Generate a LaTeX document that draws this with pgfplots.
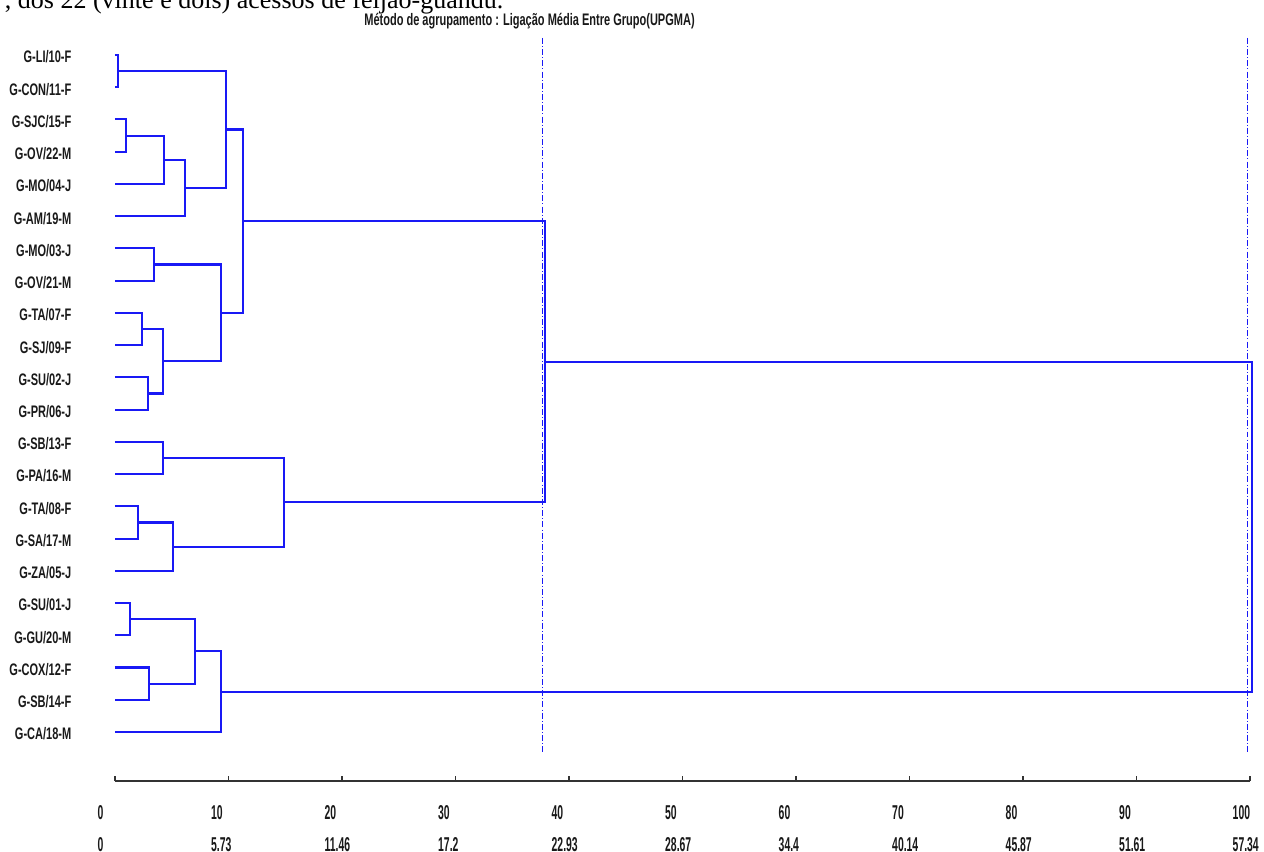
\documentclass[border=0pt]{standalone}
\usepackage{fontspec}
\setmainfont{Liberation Sans}
\newfontfamily\lblfont{Liberation Sans}[FakeStretch=0.66]
\newfontfamily\tickfont{Liberation Sans}[FakeStretch=0.52]
\newfontfamily\seriffont{Liberation Serif}
\usepackage{pgfplots}
\pgfplotsset{compat=1.18}
\definecolor{dendro}{RGB}{25,25,245}
\begin{document}
\begin{tikzpicture}
\useasboundingbox (0,0) rectangle (12.64cm,-8.51cm);
\clip (0,0) rectangle (12.64cm,-8.51cm);
\node[anchor=base east, font=\seriffont\fontsize{7.4}{8}\selectfont, inner sep=0pt] at (5.04cm,-0.085cm) {, dos 22 (vinte e dois) acessos de feijão-guandu.};
\node[anchor=base, font=\lblfont\bfseries\fontsize{4.75}{6}\selectfont, inner sep=0pt, text=black!90] at (5.295cm,-0.25cm) {Método de agrupamento : Ligação Média Entre Grupo(UPGMA)};
\begin{axis}[
  at={(1.15cm,-7.81cm)}, anchor=south west,
  scale only axis, width=11.35cm, height=7.583cm,
  xmin=0, xmax=100, ymin=-23.52, ymax=0,
  clip=false,
  axis x line=bottom, axis y line*=left,
  axis line style={-},
  x axis line style={black!80, line width=0.8pt},
  y axis line style={draw=none},
  xtick={0,10,...,100},
  xticklabels={{0\\0},{10\\5.73},{20\\11.46},{30\\17.2},{40\\22.93},{50\\28.67},{60\\34.4},{70\\40.14},{80\\45.87},{90\\51.61},{100\\57.34}},
  xticklabel style={align=left, anchor=north west, inner sep=0pt, xshift=-0.18cm, yshift=-0.24cm,
    font=\tickfont\bfseries\fontsize{5.7}{9.1}\selectfont, text=black!90},
  tick align=inside, major tick length=0.05cm,
  x tick style={black!80, line width=0.5pt},
  ytick={-22,-21,...,-1},
  yticklabels={G-CA/18-M,G-SB/14-F,G-COX/12-F,G-GU/20-M,G-SU/01-J,G-ZA/05-J,G-SA/17-M,G-TA/08-F,G-PA/16-M,G-SB/13-F,G-PR/06-J,G-SU/02-J,G-SJ/09-F,G-TA/07-F,G-OV/21-M,G-MO/03-J,G-AM/19-M,G-MO/04-J,G-OV/22-M,G-SJC/15-F,G-CON/11-F,G-LI/10-F},
  yticklabel style={anchor=east, inner sep=0pt, xshift=-0.43cm, yshift=-0.02cm,
    font=\lblfont\bfseries\fontsize{4.75}{6}\selectfont, text=black!90},
  y tick style={draw=none},
  dl/.style={dendro, solid, line width=0.6pt, line join=miter, no markers},
  cut/.style={dendro, line width=0.3pt, no markers, dash pattern=on 1.7pt off 0.6pt on 0.3pt off 0.6pt},
]
% A: LI/CON
\addplot[dl] coordinates {(0,-1) (0.3,-1) (0.3,-2) (0,-2)};
% B: SJC/OV22
\addplot[dl] coordinates {(0,-3) (1.0,-3) (1.0,-4) (0,-4)};
% C: B + MO04
\addplot[dl] coordinates {(1.0,-3.5) (4.35,-3.5) (4.35,-5) (0,-5)};
% D: C + AM19
\addplot[dl] coordinates {(4.35,-4.25) (6.2,-4.25) (6.2,-6) (0,-6)};
% E: A + D
\addplot[dl] coordinates {(0.3,-1.5) (9.75,-1.5) (9.75,-5.125) (6.2,-5.125)};
% F: MO03/OV21
\addplot[dl] coordinates {(0,-7) (3.4,-7) (3.4,-8) (0,-8)};
% G: TA07/SJ09
\addplot[dl] coordinates {(0,-9) (2.35,-9) (2.35,-10) (0,-10)};
% H: SU02/PR06
\addplot[dl] coordinates {(0,-11) (2.88,-11) (2.88,-12) (0,-12)};
% I: G + H
\addplot[dl] coordinates {(2.35,-9.5) (4.26,-9.5) (4.26,-11.5) (2.88,-11.5)};
% J: F + I
\addplot[dl] coordinates {(3.4,-7.5) (9.34,-7.5) (9.34,-10.5) (4.26,-10.5)};
% K: E + J
\addplot[dl] coordinates {(9.75,-3.3125) (11.3,-3.3125) (11.3,-9.0) (9.34,-9.0)};
% L: SB13/PA16
\addplot[dl] coordinates {(0,-13) (4.2,-13) (4.2,-14) (0,-14)};
% M: TA08/SA17
\addplot[dl] coordinates {(0,-15) (2.05,-15) (2.05,-16) (0,-16)};
% N: M + ZA05
\addplot[dl] coordinates {(2.05,-15.5) (5.08,-15.5) (5.08,-17) (0,-17)};
% O: L + N
\addplot[dl] coordinates {(4.2,-13.5) (14.89,-13.5) (14.89,-16.25) (5.08,-16.25)};
% P: K + O
\addplot[dl] coordinates {(11.3,-6.15625) (37.9,-6.15625) (37.9,-14.875) (14.89,-14.875)};
% Q: SU01/GU20
\addplot[dl] coordinates {(0,-18) (1.32,-18) (1.32,-19) (0,-19)};
% R: COX12/SB14
\addplot[dl] coordinates {(0,-20) (3.02,-20) (3.02,-21) (0,-21)};
% S: Q + R
\addplot[dl] coordinates {(1.32,-18.5) (7.05,-18.5) (7.05,-20.5) (3.02,-20.5)};
% T: S + CA18
\addplot[dl] coordinates {(7.05,-19.5) (9.34,-19.5) (9.34,-22) (0,-22)};
% U: P + T
\addplot[dl] coordinates {(37.9,-10.515625) (100.15,-10.515625) (100.15,-20.75) (9.34,-20.75)};
% cut lines
\addplot[cut] coordinates {(37.65,-0.47) (37.65,-22.62)};
\addplot[cut] coordinates {(99.75,-0.47) (99.75,-22.62)};
\end{axis}
\end{tikzpicture}
\end{document}
